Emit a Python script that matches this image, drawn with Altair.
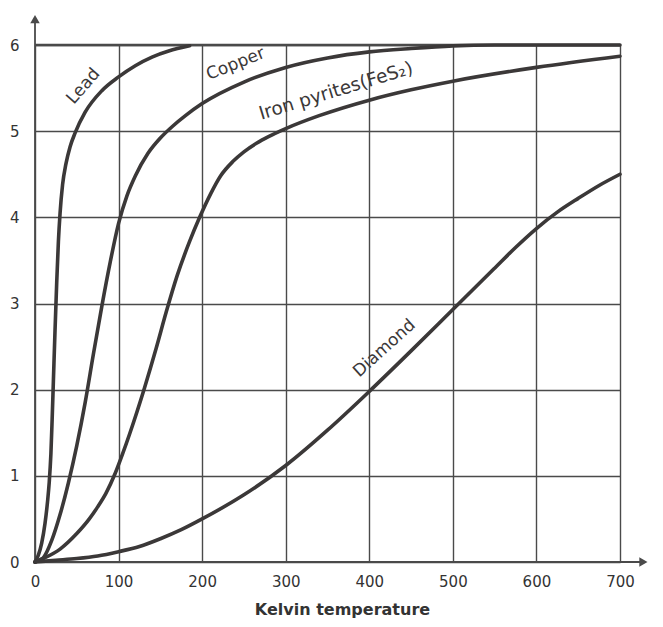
import altair as alt
import pandas as pd

# Heat capacity curves
lead_T = [0, 4, 8, 12, 15, 17, 19, 20.5, 22, 24, 26, 28, 30, 33, 37, 42, 48, 60, 80, 100, 120, 140, 160, 185]
lead_C = [0, 0.08, 0.22, 0.45, 0.7, 0.92, 1.25, 1.65, 2.1, 2.7, 3.25, 3.72, 4.05, 4.38, 4.62, 4.82, 4.98, 5.22, 5.47, 5.63, 5.76, 5.86, 5.93, 5.99]

copper_T = [0, 10, 20, 30, 40, 50, 60, 70, 80, 90, 100, 110, 120, 135, 150, 165, 180, 200, 250, 300, 350, 400, 450, 500, 550, 700]
copper_C = [0, 0.05, 0.25, 0.55, 0.92, 1.35, 1.85, 2.42, 2.97, 3.48, 3.93, 4.25, 4.48, 4.74, 4.92, 5.06, 5.18, 5.32, 5.57, 5.74, 5.85, 5.92, 5.96, 5.99, 6.0, 6.0]

iron_T = [0, 12, 30, 50, 65, 75, 85, 96, 105, 113, 131, 145, 157, 170, 185, 197, 210, 222, 237, 250, 265, 280, 300, 340, 400, 450, 500, 600, 700]
iron_C = [0, 0.05, 0.15, 0.33, 0.5, 0.64, 0.8, 1.03, 1.26, 1.48, 2.02, 2.48, 2.9, 3.32, 3.72, 4.0, 4.27, 4.48, 4.65, 4.76, 4.86, 4.94, 5.03, 5.18, 5.36, 5.48, 5.58, 5.74, 5.87]

diamond_T = [0, 25, 50, 75, 100, 125, 150, 175, 200, 250, 300, 350, 400, 450, 500, 550, 575, 600, 625, 650, 675, 700]
diamond_C = [0, 0.02, 0.04, 0.07, 0.12, 0.18, 0.27, 0.375, 0.5, 0.78, 1.12, 1.53, 1.98, 2.45, 2.93, 3.41, 3.65, 3.87, 4.06, 4.22, 4.37, 4.5]

# Curve labels: text, temperature, value
label_text = ["Lead", "Copper", "Iron pyrites(FeS\u2082)", "Diamond"]
label_T = [58, 240, 360, 418]
label_C = [5.52, 5.78, 5.47, 2.48]
label_angle = [311, 338, 343, 318]
label_size = [17, 17, 18.5, 17]

x_ticks = [0, 100, 200, 300, 400, 500, 600, 700]
y_ticks = [0, 1, 2, 3, 4, 5, 6]

rows = []
for name, ts, cs in [("Lead", lead_T, lead_C), ("Copper", copper_T, copper_C),
                     ("Iron pyrites", iron_T, iron_C), ("Diamond", diamond_T, diamond_C)]:
    for i, (t, c) in enumerate(zip(ts, cs)):
        rows.append({"series": name, "T": t, "C": c, "order": i})
df = pd.DataFrame(rows)

ink = "#3b3838"
grid = "#4a4a4a"

xscale = alt.Scale(domain=[0, 700], nice=False, zero=False)
yscale = alt.Scale(domain=[0, 6], nice=False, zero=False)

xaxis = alt.Axis(values=x_ticks, format="d", grid=True, gridColor=grid, gridWidth=1.4, gridOpacity=1,
                 ticks=False, domain=False, labelPadding=12, labelFontSize=15,
                 labelFont="DejaVu Sans", labelColor="#333", labelFlush=False,
                 title="Kelvin temperature", titleFont="DejaVu Sans", titleFontSize=16,
                 titleFontWeight="bold", titleColor="#333", titleX=307, titleY=52,
                 titleBaseline="alphabetic")
yaxis = alt.Axis(values=y_ticks, format="d", grid=True, gridColor=grid, gridWidth=1.4, gridOpacity=1,
                 ticks=False, domain=False, labelPadding=16, labelFontSize=15,
                 labelFont="DejaVu Sans", labelColor="#333", labelFlush=False, title=None)

base = alt.Chart(df)
curves = base.mark_line(color=ink, strokeWidth=3.6, interpolate="monotone", strokeCap="round").encode(
    x=alt.X("T:Q", scale=xscale, axis=xaxis),
    y=alt.Y("C:Q", scale=yscale, axis=yaxis),
    detail="series:N",
    order="order:Q",
)

# axes with arrows
axis_df = pd.DataFrame({"x0": [0, 0], "x1": [0, 725], "y0": [0, 0], "y1": [6.3, 0]})
axis_lines = alt.Chart(axis_df).mark_rule(color=grid, strokeWidth=1.8).encode(
    x=alt.X("x0:Q", scale=xscale), x2="x1:Q",
    y=alt.Y("y0:Q", scale=yscale), y2="y1:Q")
top_df = pd.DataFrame({"x0": [0], "x1": [700], "y0": [6]})
top_line = alt.Chart(top_df).mark_rule(color=grid, strokeWidth=2.4).encode(
    x=alt.X("x0:Q", scale=xscale), x2="x1:Q", y=alt.Y("y0:Q", scale=yscale))
arrow_up = alt.Chart(pd.DataFrame({"x": [0], "y": [6.3]})).mark_point(
    shape="triangle-up", filled=True, color=grid, size=90, opacity=1).encode(
    x=alt.X("x:Q", scale=xscale), y=alt.Y("y:Q", scale=yscale))
arrow_right = alt.Chart(pd.DataFrame({"x": [728], "y": [0]})).mark_point(
    shape="triangle-right", filled=True, color=grid, size=90, opacity=1).encode(
    x=alt.X("x:Q", scale=xscale), y=alt.Y("y:Q", scale=yscale))

layers = [axis_lines, top_line, curves, arrow_up, arrow_right]
for txt, t, c, a, s in zip(label_text, label_T, label_C, label_angle, label_size):
    ldf = pd.DataFrame({"T": [t], "C": [c], "label": [txt]})
    layers.append(alt.Chart(ldf).mark_text(
        font="DejaVu Sans", fontSize=s, color=ink, angle=a, align="center",
        baseline="middle").encode(
        x=alt.X("T:Q", scale=xscale), y=alt.Y("C:Q", scale=yscale), text="label:N"))

chart = alt.layer(*layers).properties(
    width=585, height=517,
    autosize=alt.AutoSizeParams(type="none"),
    padding={"left": 27, "top": 37, "right": 35, "bottom": 57},
    background="white",
).configure_view(stroke=None)

chart.save("out.html", embed_options={"renderer": "svg", "actions": False})
